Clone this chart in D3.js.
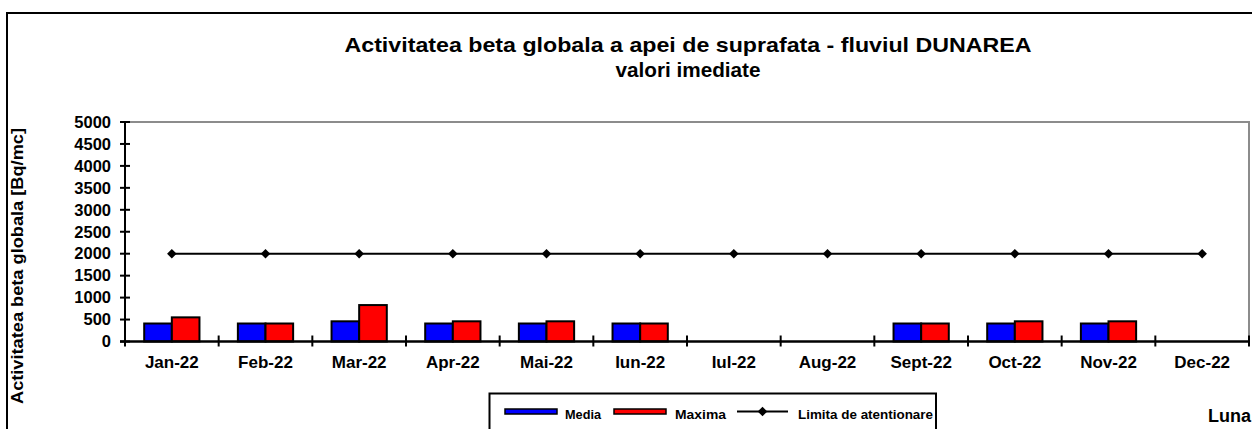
<!DOCTYPE html>
<html>
<head>
<meta charset="utf-8">
<script src="https://cdn.jsdelivr.net/npm/d3@7"></script>
<style>
  html, body { margin: 0; padding: 0; background: #fff; }
  svg { display: block; font-family: "Liberation Sans", Arial, sans-serif; }
</style>
</head>
<body>
<svg id="chart" width="1252" height="429"></svg>
<script>
// Monthly categories and measured values (Bq/mc)
const months = ["Jan-22", "Feb-22", "Mar-22", "Apr-22", "Mai-22", "Iun-22", "Iul-22", "Aug-22", "Sept-22", "Oct-22", "Nov-22", "Dec-22"];
const media  = [410, 410, 460, 410, 410, 410, null, null, 410, 410, 410, null];
const maxima = [550, 410, 830, 460, 460, 410, null, null, 410, 460, 460, null];
const limita = [2000, 2000, 2000, 2000, 2000, 2000, 2000, 2000, 2000, 2000, 2000, 2000];
const yTicks = [0, 500, 1000, 1500, 2000, 2500, 3000, 3500, 4000, 4500, 5000];
const seriesNames = ["Media", "Maxima", "Limita de atentionare"];
const seriesColors = ["#0000ff", "#ff0000"];

const svg = d3.select("#chart");
const plot = { left: 125, right: 1249, top: 122, bottom: 341.5 };

// Outer chart frame (runs past the right and bottom edges)
svg.append("rect")
  .attr("x", 7).attr("y", 13).attr("width", 1300).attr("height", 500)
  .attr("fill", "none").attr("stroke", "#000").attr("stroke-width", 2);

// Title
const title = svg.append("text")
  .attr("text-anchor", "middle").attr("font-weight", "bold").attr("font-size", 21)
  .attr("fill", "#000");
title.append("tspan").attr("x", 688).attr("y", 52)
  .attr("textLength", 687).attr("lengthAdjust", "spacingAndGlyphs")
  .text("Activitatea beta globala a apei de suprafata - fluviul DUNAREA");
title.append("tspan").attr("x", 688).attr("y", 77)
  .attr("textLength", 145).attr("lengthAdjust", "spacingAndGlyphs")
  .text("valori imediate");

const x = d3.scaleBand().domain(months).range([plot.left, plot.right]).paddingInner(0).paddingOuter(0);
const y = d3.scaleLinear().domain([0, 5000]).range([plot.bottom, plot.top]);

// Plot area border (grey top and right edges)
svg.append("path")
  .attr("d", `M${plot.left},${plot.top}H${plot.right}V${plot.bottom}`)
  .attr("fill", "none").attr("stroke", "#8c8c8c").attr("stroke-width", 2);

// Bars: two series per month, grouped at the category centre
const groupW = x.bandwidth() * 0.59;
const sub = d3.scaleBand().domain([0, 1]).range([0, groupW]);
const seriesData = [media, maxima];
seriesData.forEach((vals, si) => {
  svg.append("g").selectAll("rect")
    .data(months.map((m, i) => ({ m, v: vals[i] })).filter(d => d.v != null))
    .join("rect")
    .attr("x", d => x(d.m) + (x.bandwidth() - groupW) / 2 + sub(si))
    .attr("y", d => y(d.v))
    .attr("width", sub.bandwidth())
    .attr("height", d => y(0) - y(d.v))
    .attr("fill", seriesColors[si])
    .attr("stroke", "#000").attr("stroke-width", 2);
});

// Y axis
const yAxis = d3.axisLeft(y).tickValues(yTicks).tickFormat(d3.format("d")).tickSize(0).tickPadding(14);
const yg = svg.append("g").attr("transform", `translate(${plot.left},0)`).call(yAxis);
yg.select(".domain").remove();
yg.selectAll("text").attr("font-size", 16.5).attr("font-weight", "bold").attr("fill", "#000")
  .attr("font-family", "Liberation Sans, Arial, sans-serif");
svg.append("g").selectAll("line").data(yTicks).join("line")
  .attr("x1", plot.left - 5).attr("x2", plot.left + 5)
  .attr("y1", d => y(d)).attr("y2", d => y(d))
  .attr("stroke", "#000").attr("stroke-width", 2);
svg.append("line").attr("x1", plot.left).attr("x2", plot.left)
  .attr("y1", plot.top).attr("y2", plot.bottom)
  .attr("stroke", "#000").attr("stroke-width", 2);

// X axis: ticks at category boundaries, labels at centres
const xAxis = d3.axisBottom(x).tickSize(0).tickPadding(14);
const xg = svg.append("g").attr("transform", `translate(0,${plot.bottom})`).call(xAxis);
xg.select(".domain").remove();
xg.selectAll("text").attr("font-size", 17).attr("font-weight", "bold").attr("fill", "#000")
  .attr("font-family", "Liberation Sans, Arial, sans-serif");
const bounds = months.map(m => x(m)).concat([x(months[months.length - 1]) + x.bandwidth()]);
svg.append("g").selectAll("line").data(bounds).join("line")
  .attr("x1", d => d).attr("x2", d => d)
  .attr("y1", plot.bottom - 6).attr("y2", plot.bottom + 5)
  .attr("stroke", "#000").attr("stroke-width", 2);
svg.append("line").attr("x1", plot.left - 5).attr("x2", plot.right)
  .attr("y1", plot.bottom).attr("y2", plot.bottom)
  .attr("stroke", "#000").attr("stroke-width", 2.5);

// Warning limit line with diamond markers
const cx = m => x(m) + x.bandwidth() / 2;
svg.append("path")
  .datum(months.map((m, i) => [cx(m), y(limita[i])]))
  .attr("d", d3.line())
  .attr("fill", "none").attr("stroke", "#000").attr("stroke-width", 2);
const marker = d3.symbol().type(d3.symbolSquare).size(46);
svg.append("g").selectAll("path").data(months).join("path")
  .attr("d", marker)
  .attr("transform", (m, i) => `translate(${cx(m)},${y(limita[i])}) rotate(45)`)
  .attr("fill", "#000");

// Axis titles
svg.append("text")
  .attr("transform", "translate(23,266) rotate(-90)")
  .attr("text-anchor", "middle").attr("font-weight", "bold").attr("font-size", 16)
  .attr("textLength", 276).attr("lengthAdjust", "spacingAndGlyphs")
  .text("Activitatea beta globala [Bq/mc]");
svg.append("text")
  .attr("x", 1251).attr("y", 422).attr("text-anchor", "end")
  .attr("font-weight", "bold").attr("font-size", 18)
  .text("Luna");

// Legend
const lg = svg.append("g");
lg.append("rect").attr("x", 489.5).attr("y", 393.5).attr("width", 446.5).attr("height", 60)
  .attr("fill", "#fff").attr("stroke", "#000").attr("stroke-width", 2);
const swatchX = [505, 614];
const textX = [565, 675, 798];
const textW = [36, 51, 135];
seriesColors.forEach((c, i) => {
  lg.append("rect").attr("x", swatchX[i]).attr("y", 409).attr("width", 52).attr("height", 5)
    .attr("fill", c).attr("stroke", "#000").attr("stroke-width", 1.5);
});
lg.append("line").attr("x1", 737).attr("x2", 788).attr("y1", 411.5).attr("y2", 411.5)
  .attr("stroke", "#000").attr("stroke-width", 2);
lg.append("path").attr("d", marker)
  .attr("transform", "translate(762.5,411.5) rotate(45)").attr("fill", "#000");
seriesNames.forEach((n, i) => {
  lg.append("text").attr("x", textX[i]).attr("y", 419)
    .attr("font-weight", "bold").attr("font-size", 13)
    .attr("textLength", textW[i]).attr("lengthAdjust", "spacingAndGlyphs").text(n);
});
</script>
</body>
</html>
